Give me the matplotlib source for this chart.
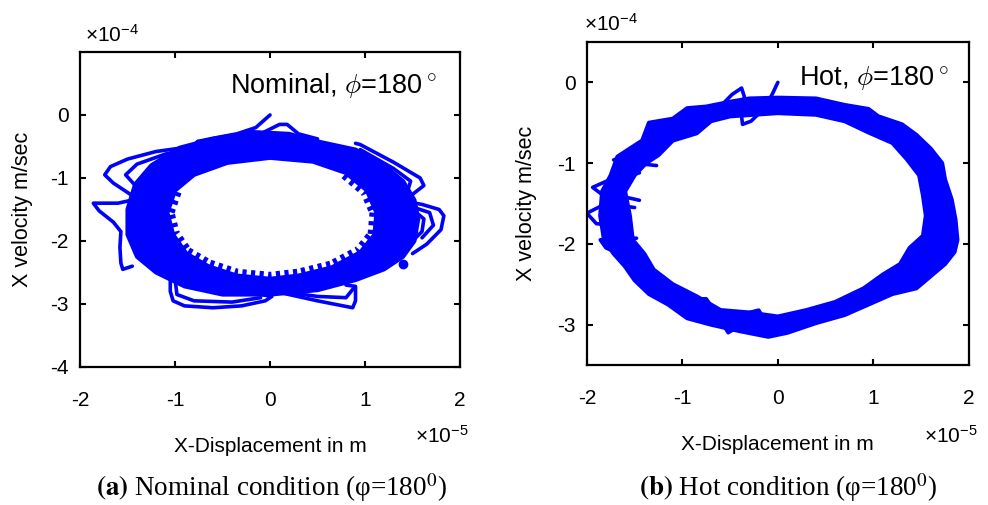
import numpy as np
import matplotlib
matplotlib.use("Agg")
import matplotlib.pyplot as plt
from matplotlib.path import Path
from matplotlib.patches import PathPatch

plt.rcParams['font.family'] = ['Liberation Sans', 'DejaVu Sans']
plt.rcParams['mathtext.fontset'] = 'custom'
plt.rcParams['mathtext.rm'] = 'Liberation Sans'
plt.rcParams['mathtext.it'] = 'Liberation Sans:italic'
plt.rcParams['mathtext.bf'] = 'Liberation Sans:bold'

BLUE = '#0000FF'

# ---------------- Nominal condition (x in 1e-5 m, v in 1e-4 m/s) ----------------
nom_outer_x = [-0.2, 0.2, 0.5, 0.9, 1.2, 1.4, 1.52, 1.56, 1.52, 1.4, 1.2, 0.9, 0.5, 0.0,
               -0.5, -0.9, -1.2, -1.4, -1.5, -1.5, -1.42, -1.25, -0.95, -0.6]
nom_outer_y = [-0.27, -0.30, -0.42, -0.55, -0.80, -1.05, -1.35, -1.65, -2.0, -2.25, -2.45, -2.62,
               -2.78, -2.85, -2.85, -2.72, -2.5, -2.25, -1.9, -1.5, -1.1, -0.8, -0.52, -0.38]
nom_inner_x = [0.0, 0.45, 0.8, 1.02, 1.12, 1.1, 0.95, 0.65, 0.3, 0.0, -0.35, -0.65, -0.88,
               -1.02, -1.08, -1.0, -0.8, -0.45]
nom_inner_y = [-0.68, -0.74, -0.92, -1.2, -1.55, -1.9, -2.18, -2.42, -2.55, -2.6, -2.55, -2.4,
               -2.2, -1.9, -1.55, -1.2, -0.95, -0.76]

nom_loops = [
    ([0.0, -0.15, -0.35, -0.6, -0.76],
     [0.0, -0.2, -0.3, -0.37, -0.42]),
    ([-0.76, -0.82, -1.2, -1.5, -1.68, -1.74, -1.65, -1.47],
     [-0.42, -0.50, -0.58, -0.70, -0.82, -0.95, -1.08, -1.26]),
    ([-0.6, -1.1, -1.4, -1.52, -1.4],
     [-0.45, -0.62, -0.78, -0.95, -1.15]),
    ([-1.45, -1.6, -1.86, -1.80, -1.65, -1.57, -1.58, -1.57, -1.55, -1.45],
     [-1.35, -1.40, -1.40, -1.52, -1.70, -1.85, -2.1, -2.35, -2.45, -2.4]),
    ([-1.05, -1.05, -1.02, -0.9, -0.6, -0.3, -0.05, 0.02, -0.2, -0.6],
     [-2.55, -2.8, -2.95, -3.03, -3.06, -3.03, -2.95, -2.88, -2.82, -2.75]),
    ([-1.0, -0.98, -0.8, -0.4, -0.1],
     [-2.6, -2.85, -2.95, -2.97, -2.9]),
    ([-0.1, 0.2, 0.5, 0.87, 0.9, 0.9, 0.8],
     [-2.75, -2.85, -2.95, -3.06, -2.95, -2.72, -2.7]),
    ([0.1, 0.5, 0.8, 0.88],
     [-2.8, -2.88, -2.9, -2.75]),
    ([0.9, 0.95, 1.3, 1.58, 1.62, 1.5],
     [-0.45, -0.47, -0.75, -1.0, -1.12, -1.26]),
    ([0.95, 1.3, 1.48, 1.45],
     [-0.55, -0.85, -1.05, -1.2]),
    ([1.45, 1.6, 1.78, 1.83, 1.8, 1.65, 1.5],
     [-1.38, -1.42, -1.5, -1.6, -1.82, -2.05, -2.2]),
    ([1.48, 1.68, 1.72, 1.6],
     [-1.45, -1.55, -1.75, -1.95]),
    ([1.5, 1.62, 1.6, 1.5],
     [-1.5, -1.65, -1.85, -2.0]),
    ([-0.1, 0.1, 0.18, 0.3, 0.5],
     [-0.3, -0.15, -0.15, -0.3, -0.38]),
]
nom_dot_x, nom_dot_y = [1.4], [-2.37]

# ---------------- Hot condition ----------------
hot_outer_x = [-0.3, 0.0, 0.4, 0.7, 0.95, 1.05, 1.3, 1.45, 1.6, 1.72, 1.75, 1.82, 1.86, 1.88,
               1.85, 1.75, 1.6, 1.45, 1.2, 0.95, 0.7, 0.4, 0.1, -0.1, -0.4, -0.7, -0.95, -1.15,
               -1.35, -1.5, -1.6, -1.72, -1.82, -1.86, -1.84, -1.75, -1.68, -1.55, -1.42, -1.35,
               -1.1, -0.95, -0.75, -0.5]
hot_outer_y = [-0.2, -0.19, -0.2, -0.28, -0.33, -0.42, -0.52, -0.65, -0.82, -1.0, -1.2, -1.45,
               -1.7, -1.95, -2.1, -2.25, -2.4, -2.55, -2.62, -2.75, -2.88, -2.98, -3.1, -3.15,
               -3.08, -3.0, -2.92, -2.75, -2.62, -2.45, -2.28, -2.12, -1.95, -1.65, -1.35, -1.15,
               -0.92, -0.82, -0.72, -0.5, -0.45, -0.32, -0.3, -0.24]
hot_inner_x = [-0.5, 0.0, 0.4, 0.7, 0.95, 1.2, 1.35, 1.48, 1.52, 1.55, 1.52, 1.38, 1.28, 1.1,
               0.9, 0.6, 0.3, 0.0, -0.3, -0.6, -0.85, -1.1, -1.3, -1.4, -1.52, -1.55, -1.6,
               -1.5, -1.38, -1.25, -1.1, -0.85, -0.7]
hot_inner_y = [-0.42, -0.38, -0.4, -0.48, -0.62, -0.75, -0.95, -1.15, -1.4, -1.65, -1.9, -2.05,
               -2.25, -2.38, -2.55, -2.72, -2.82, -2.9, -2.85, -2.82, -2.65, -2.5, -2.32, -2.12,
               -1.95, -1.65, -1.35, -1.15, -1.0, -0.9, -0.72, -0.63, -0.48]

hot_loops = [
    ([0.0, -0.06, -0.15, -0.28, -0.37, -0.38, -0.3, -0.15],
     [0.0, -0.15, -0.33, -0.48, -0.52, -0.42, -0.36, -0.36]),
    ([-0.8, -0.62, -0.48, -0.38, -0.35, -0.4],
     [-0.4, -0.32, -0.15, -0.07, -0.18, -0.32]),
    ([-1.27, -1.5, -1.72, -1.62, -1.45],
     [-1.03, -1.0, -0.96, -0.92, -0.85]),
    ([-1.45, -1.75, -1.94, -1.85, -1.6, -1.45],
     [-1.12, -1.2, -1.3, -1.38, -1.42, -1.46]),
    ([-1.5, -1.8, -2.0, -1.9, -1.6],
     [-1.55, -1.5, -1.62, -1.75, -1.78]),
    ([-1.48, -1.7, -1.86, -1.8, -1.7],
     [-1.93, -1.92, -1.95, -2.05, -2.1]),
    ([-0.95, -0.85, -0.75, -0.68, -0.6, -0.52, -0.45, -0.5],
     [-2.85, -2.68, -2.68, -2.8, -2.95, -3.1, -3.05, -2.9]),
    ([-0.4, -0.3, -0.2, -0.15, -0.2],
     [-3.0, -2.85, -2.82, -2.92, -3.0]),
]


def band(ax, ox, oy, ix, iy):
    outer = Path(np.column_stack([ox + ox[:1], oy + oy[:1]]), closed=True)
    inner_pts = np.column_stack([ix[::-1] + ix[-1:], iy[::-1] + iy[-1:]])
    inner = Path(inner_pts, closed=True)
    p = Path.make_compound_path(outer, inner)
    ax.add_patch(PathPatch(p, facecolor=BLUE, edgecolor=BLUE, lw=3, joinstyle='round'))


def style(ax, ylim, yticks):
    ax.set_xlim(-2, 2)
    ax.set_ylim(*ylim)
    ax.set_xticks([-2, -1, 0, 1, 2])
    ax.set_yticks(yticks)
    ax.set_yticklabels([f"{t:g}" for t in yticks])
    ax.set_xticklabels(["-2", "-1", "0", "1", "2"])
    ax.tick_params(direction='in', length=4, width=1.5, top=True, right=True,
                   labelsize=15)
    ax.tick_params(axis='x', pad=17)
    ax.tick_params(axis='y', pad=8)
    for s in ax.spines.values():
        s.set_linewidth(1.6)
    ax.set_xlabel("X-Displacement in m", fontsize=15)
    ax.set_ylabel("X velocity m/sec", fontsize=15.5)


fig = plt.figure(figsize=(9.88, 5.05), dpi=100)
ax1 = fig.add_axes([0.081, 0.2733, 0.3846, 0.6238])
ax2 = fig.add_axes([0.594, 0.2772, 0.3866, 0.6396])

LW = 2.6
# nominal
band(ax1, nom_outer_x, nom_outer_y, nom_inner_x, nom_inner_y)
tx = nom_inner_x[2:16]
ty = nom_inner_y[2:16]
ax1.plot(tx, ty, color=BLUE, lw=10, dashes=(0.3, 0.32), solid_capstyle='butt')
for xs, ys in nom_loops:
    ax1.plot(xs, ys, color=BLUE, lw=LW, solid_joinstyle='round', solid_capstyle='round')
ax1.plot(nom_dot_x, nom_dot_y, 'o', color=BLUE, ms=6)
style(ax1, (-4, 1), [-4, -3, -2, -1, 0])
ax1.text(1.76, 0.46, r"Nominal, $\phi$=180$^\circ$", ha='right', va='center',
         fontsize=19.5, math_fontfamily='cm')

# hot
band(ax2, hot_outer_x, hot_outer_y, hot_inner_x, hot_inner_y)
for xs, ys in hot_loops:
    ax2.plot(xs, ys, color=BLUE, lw=LW, solid_joinstyle='round', solid_capstyle='round')
style(ax2, (-3.5, 0.5), [-3, -2, -1, 0])
ax2.text(1.79, 0.05, r"Hot, $\phi$=180$^\circ$", ha='right', va='center',
         fontsize=19.5, math_fontfamily='cm')

for ax, lx, ly in [(ax1, -0.124, -0.222), (ax2, -0.131, -0.217)]:
    ax.yaxis.set_label_coords(lx, 0.5)
    ax.xaxis.set_label_coords(0.5, ly)

ax1.text(0.013, 1.054, r"$\times\mathregular{10^{-4}}$", transform=ax1.transAxes,
         ha='left', va='center', fontsize=15)
ax2.text(-0.008, 1.056, r"$\times\mathregular{10^{-4}}$", transform=ax2.transAxes,
         ha='left', va='center', fontsize=15)
ax1.text(0.882, -0.219, r"$\times\mathregular{10^{-5}}$", transform=ax1.transAxes,
         ha='left', va='center', fontsize=15)
ax2.text(0.882, -0.22, r"$\times\mathregular{10^{-5}}$", transform=ax2.transAxes,
         ha='left', va='center', fontsize=15)

fig.text(0.275, 0.034, r"$\mathbf{(a)}$ Nominal condition (φ=180$^{0}$)", ha='center',
         va='center', fontsize=19.5, family='Liberation Serif', math_fontfamily='stix')
fig.text(0.798, 0.034, r"$\mathbf{(b)}$ Hot condition (φ=180$^{0}$)", ha='center',
         va='center', fontsize=19.5, family='Liberation Serif', math_fontfamily='stix')

fig.savefig("out.png", dpi=100)
